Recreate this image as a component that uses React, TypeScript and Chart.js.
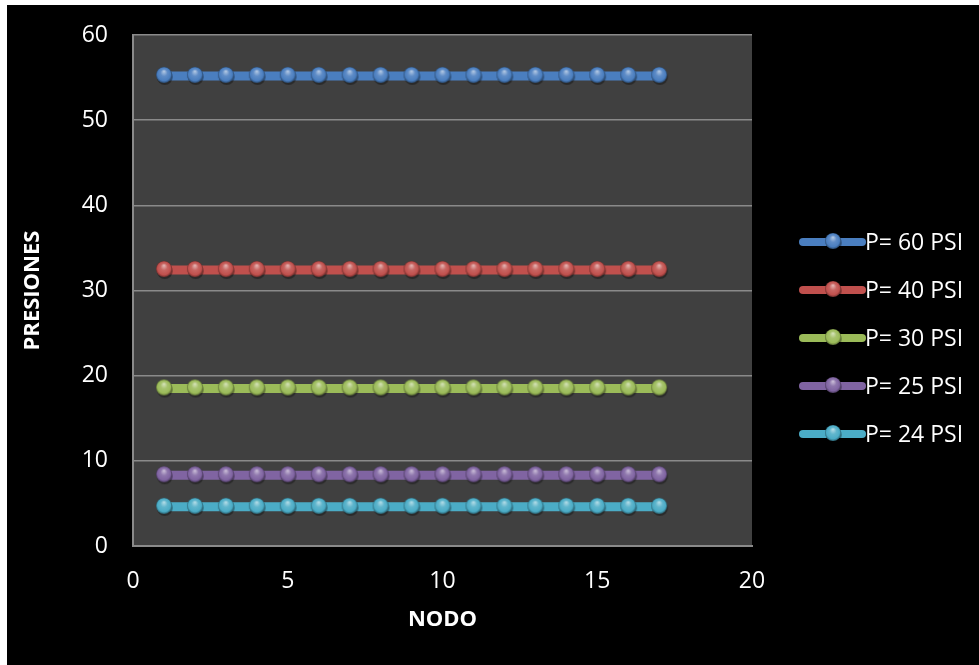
import React, { useEffect, useRef } from 'react';
import { Chart, registerables } from 'chart.js';
Chart.register(...registerables);

const nodes = [1, 2, 3, 4, 5, 6, 7, 8, 9, 10, 11, 12, 13, 14, 15, 16, 17];
const p60 = [55.2, 55.2, 55.2, 55.2, 55.2, 55.2, 55.2, 55.2, 55.2, 55.2, 55.2, 55.2, 55.2, 55.2, 55.2, 55.2, 55.2];
const p40 = [32.4, 32.4, 32.4, 32.4, 32.4, 32.4, 32.4, 32.4, 32.4, 32.4, 32.4, 32.4, 32.4, 32.4, 32.4, 32.4, 32.4];
const p30 = [18.5, 18.5, 18.5, 18.5, 18.5, 18.5, 18.5, 18.5, 18.5, 18.5, 18.5, 18.5, 18.5, 18.5, 18.5, 18.5, 18.5];
const p25 = [8.3, 8.3, 8.3, 8.3, 8.3, 8.3, 8.3, 8.3, 8.3, 8.3, 8.3, 8.3, 8.3, 8.3, 8.3, 8.3, 8.3];
const p24 = [4.6, 4.6, 4.6, 4.6, 4.6, 4.6, 4.6, 4.6, 4.6, 4.6, 4.6, 4.6, 4.6, 4.6, 4.6, 4.6, 4.6];
const seriesValues = [p60, p40, p30, p25, p24];
const seriesLabels = ['P= 60 PSI', 'P= 40 PSI', 'P= 30 PSI', 'P= 25 PSI', 'P= 24 PSI'];
const seriesColors = ['#4a7ebf', '#c0504d', '#9bbb59', '#8064a2', '#4bacc6'];
const xTitle = 'NODO';
const yTitle = 'PRESIONES';

function hexToRgb(h: string) {
  const n = parseInt(h.slice(1), 16);
  return [(n >> 16) & 255, (n >> 8) & 255, n & 255];
}
function mix(h: string, target: number, t: number) {
  const [r, g, b] = hexToRgb(h);
  const f = (v: number) => Math.round(v + (target - v) * t);
  return `rgb(${f(r)},${f(g)},${f(b)})`;
}

function makeSphere(color: string, r = 8) {
  const size = r * 2 + 6;
  const c = document.createElement('canvas');
  c.width = size;
  c.height = size;
  const ctx = c.getContext('2d')!;
  const cx = size / 2;
  const cy = size / 2 - 1;
  ctx.fillStyle = 'rgba(0,0,0,0.35)';
  ctx.beginPath();
  ctx.arc(cx + 0.8, cy + 2, r, 0, Math.PI * 2);
  ctx.fill();
  const g = ctx.createRadialGradient(cx, cy - r * 0.45, r * 0.05, cx, cy, r);
  g.addColorStop(0, mix(color, 255, 0.55));
  g.addColorStop(0.4, mix(color, 255, 0.12));
  g.addColorStop(0.8, color);
  g.addColorStop(1, mix(color, 0, 0.4));
  ctx.fillStyle = g;
  ctx.beginPath();
  ctx.arc(cx, cy, r, 0, Math.PI * 2);
  ctx.fill();
  return c;
}

export default function App() {
  const ref = useRef<HTMLCanvasElement | null>(null);
  useEffect(() => {
    if (!ref.current) return;
    const spheres = seriesColors.map((c) => makeSphere(c));
    const font = "'Open Sans', 'Liberation Sans', sans-serif";

    const plotBg = {
      id: 'plotBg',
      beforeDraw(chart: any) {
        const { ctx, chartArea: a } = chart;
        ctx.save();
        ctx.fillStyle = '#404040';
        ctx.fillRect(a.left, a.top, a.right - a.left, a.bottom - a.top);
        ctx.restore();
      },
    };

    const customLegend = {
      id: 'customLegend',
      afterDraw(chart: any) {
        const { ctx, chartArea: a } = chart;
        ctx.save();
        const x0 = a.right + 51;
        const x1 = a.right + 110;
        const xm = a.right + 81;
        const xt = a.right + 113;
        chart.data.datasets.forEach((ds: any, i: number) => {
          const y = 237 + i * 48;
          ctx.strokeStyle = ds.borderColor;
          ctx.lineWidth = 8;
          ctx.lineCap = 'round';
          ctx.beginPath();
          ctx.moveTo(x0, y);
          ctx.lineTo(x1, y);
          ctx.stroke();
          const s = spheres[i];
          ctx.drawImage(s, xm - s.width / 2, y - s.height / 2);
          ctx.fillStyle = '#ffffff';
          ctx.font = `23px ${font}`;
          ctx.textAlign = 'left';
          ctx.textBaseline = 'middle';
          ctx.fillText(ds.label, xt, y + 1);
        });
        ctx.restore();
      },
    };

    const chart = new Chart(ref.current, {
      type: 'scatter',
      data: {
        datasets: seriesValues.map((vals, i) => ({
          label: seriesLabels[i],
          data: nodes.map((x, j) => ({ x, y: vals[j] })),
          showLine: true,
          borderColor: seriesColors[i],
          backgroundColor: seriesColors[i],
          borderWidth: 9,
          pointStyle: spheres[i] as any,
          pointRadius: 8,
          pointHoverRadius: 8,
        })),
      },
      options: {
        responsive: false,
        animation: false,
        layout: { padding: { left: 0, top: 30, right: 227, bottom: 32 } },
        plugins: { legend: { display: false }, tooltip: { enabled: false } },
        scales: {
          x: {
            type: 'linear',
            min: 0,
            max: 20,
            ticks: { stepSize: 5, color: '#ffffff', font: { family: font, size: 23 }, padding: 22 },
            grid: { display: false, drawTicks: false },
            border: { display: true, color: '#8a8a8a', width: 2 },
            title: { display: true, text: xTitle, color: '#ffffff', font: { family: font, size: 22, weight: 'bold' }, padding: { top: 0, bottom: 0 } },
            afterFit: (s: any) => { s.height = 87; s.paddingLeft = 0; s.paddingRight = 0; },
          },
          y: {
            type: 'linear',
            min: 0,
            max: 60,
            ticks: { stepSize: 10, color: '#ffffff', font: { family: font, size: 23 }, padding: 25 },
            grid: { color: '#8a8a8a', lineWidth: 1.5, drawTicks: false },
            border: { display: true, color: '#8a8a8a', width: 2 },
            title: { display: true, text: yTitle, color: '#ffffff', font: { family: font, size: 22, weight: 'bold' }, padding: { top: 13, bottom: 0 } },
            afterFit: (s: any) => { s.width = 126; s.paddingTop = 0; s.paddingBottom = 0; },
          },
        },
      },
      plugins: [plotBg, customLegend],
    } as any);
    return () => chart.destroy();
  }, []);

  return (
    <div style={{ position: 'fixed', left: 7, top: 5, width: 972, height: 660, background: '#000' }}>
      <canvas ref={ref} width={972} height={660} style={{ display: 'block' }} />
    </div>
  );
}
